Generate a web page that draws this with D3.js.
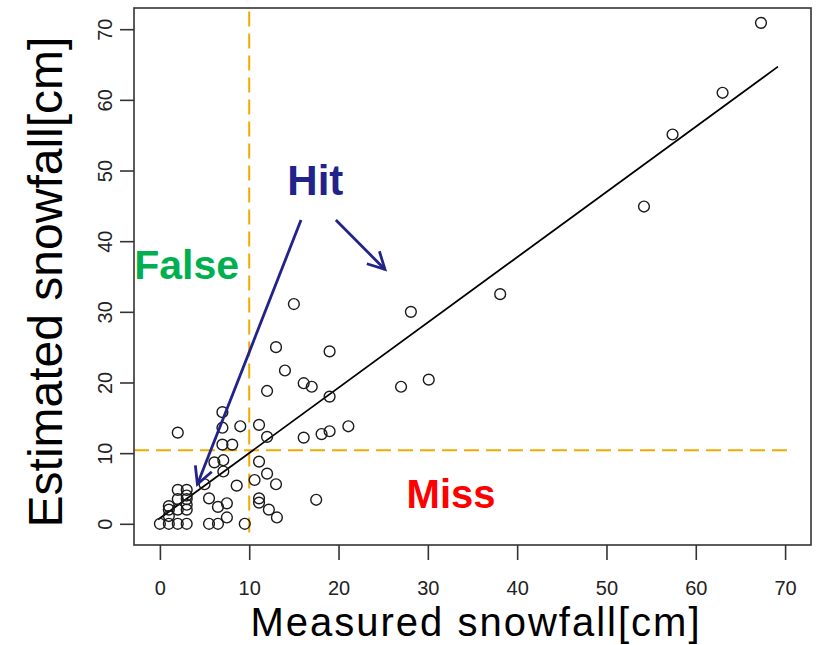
<!DOCTYPE html>
<html>
<head>
<meta charset="utf-8">
<script src="https://cdn.jsdelivr.net/npm/d3@7"></script>
<style>
  body { margin: 0; background: #fff; }
  svg { display: block; font-family: "Liberation Sans", Arial, sans-serif; }
</style>
</head>
<body>
<svg id="chart"></svg>
<script>
var width = 816;
var height = 645;

// measured vs estimated snowfall [cm]
var measured = [67.3, 63.0, 57.4, 54.2, 38.1, 28.1, 30.1, 27.0,
  15.0, 13.0, 19.0, 14.0, 16.1, 17.0, 12.0, 19.0,
  7.0, 7.0, 9.0, 11.1, 12.0, 16.1, 18.1, 19.0, 21.1, 7.0, 8.1, 2.0,
  6.1, 7.1, 11.1, 7.1, 12.0, 10.6, 13.0, 8.6, 5.0,
  5.5, 6.5, 7.5, 11.1, 11.1, 12.2, 13.1, 7.5, 5.5, 6.5, 9.5, 17.5,
  0, 1, 2, 3, 1, 1, 1, 2, 3, 3, 2, 3, 2, 3, 3];
var estimated = [70.9, 61.0, 55.1, 44.9, 32.5, 30.0, 20.4, 19.4,
  31.1, 25.0, 24.4, 21.7, 19.9, 19.4, 18.8, 18.0,
  15.8, 13.6, 13.8, 14.0, 12.3, 12.2, 12.7, 13.1, 13.8, 11.2, 11.2, 12.9,
  8.7, 9.0, 8.8, 7.4, 7.1, 6.2, 5.6, 5.4, 5.6,
  3.6, 2.4, 2.9, 3.6, 3.0, 2.0, 0.9, 0.9, 0, 0, 0, 3.4,
  0, 0, 0, 0, 1.1, 2.0, 2.5, 2.0, 2.0, 2.7, 3.5, 3.5, 4.8, 4.8, 4.0];

var xTicks = [0, 10, 20, 30, 40, 50, 60, 70];
var yTicks = [0, 10, 20, 30, 40, 50, 60, 70];

// regression line end points
var fitX = [-0.2, 69.2];
var fitY = [0.6, 64.7];

// threshold lines
var threshX = 10;
var threshY = 10.4;

// annotations (data coords)
var labels = [
  { text: 'Hit', x: 17.4, y: 46.6, color: '#22228b', size: 42 },
  { text: 'False', x: 3.0, y: 34.6, color: '#00b050', size: 41 },
  { text: 'Miss', x: 32.6, y: 2.2, color: '#ff0000', size: 40 }
];
var arrows = [
  { x1: 15.8, y1: 43.0, x2: 4.2, y2: 5.6 },
  { x1: 19.7, y1: 43.0, x2: 25.2, y2: 36.0 }
];

var box = { left: 134, right: 811, top: 8, bottom: 545 };

var x = d3.scaleLinear().domain([-2.9, 72.9]).range([box.left, box.right]);
var y = d3.scaleLinear().domain([-3, 73]).range([box.bottom, box.top]);

var svg = d3.select('#chart').attr('width', width).attr('height', height);
svg.append('rect').attr('width', width).attr('height', height).attr('fill', '#fff');

// threshold dashed lines
var orange = '#f2aa00';
svg.append('line')
  .attr('x1', x(threshX)).attr('x2', x(threshX))
  .attr('y1', y(72.5)).attr('y2', y(-2.2))
  .attr('stroke', orange).attr('stroke-width', 2)
  .attr('stroke-dasharray', '15,7');
svg.append('line')
  .attr('x1', x(-2.9)).attr('x2', x(70.5))
  .attr('y1', y(threshY)).attr('y2', y(threshY))
  .attr('stroke', orange).attr('stroke-width', 2)
  .attr('stroke-dasharray', '15,7');

// regression line
svg.append('line')
  .attr('x1', x(fitX[0])).attr('y1', y(fitY[0]))
  .attr('x2', x(fitX[1])).attr('y2', y(fitY[1]))
  .attr('stroke', '#000').attr('stroke-width', 1.8);

// points
svg.selectAll('.pt').data(measured).enter()
  .append('circle').classed('pt', true)
  .attr('cx', function(d) { return x(d); })
  .attr('cy', function(d, i) { return y(estimated[i]); })
  .attr('r', 5.4)
  .attr('fill', 'none')
  .attr('stroke', '#1a1a1a')
  .attr('stroke-width', 1.4);

// box
svg.append('rect')
  .attr('x', box.left).attr('y', box.top)
  .attr('width', box.right - box.left).attr('height', box.bottom - box.top)
  .attr('fill', 'none').attr('stroke', '#333').attr('stroke-width', 1.6);

// axes
var xAxis = svg.append('g')
  .attr('transform', 'translate(0,' + box.bottom + ')')
  .call(d3.axisBottom(x).tickValues(xTicks).tickSize(15).tickFormat(d3.format('d')));
xAxis.select('.domain').remove();
xAxis.selectAll('line').attr('stroke', '#333').attr('stroke-width', 1.6);
xAxis.selectAll('text')
  .attr('y', 50).attr('dy', null)
  .attr('fill', '#222')
  .style('font-size', '20px')
  .style('font-family', '"Liberation Sans", Arial, sans-serif');

var yAxis = svg.append('g')
  .attr('transform', 'translate(' + box.left + ',0)')
  .call(d3.axisLeft(y).tickValues(yTicks).tickSize(14).tickFormat(d3.format('d')));
yAxis.select('.domain').remove();
yAxis.selectAll('line').attr('stroke', '#333').attr('stroke-width', 1.6);
yAxis.selectAll('text')
  .attr('x', 0).attr('dy', null)
  .attr('transform', 'translate(-22,0) rotate(-90)')
  .attr('text-anchor', 'middle')
  .attr('fill', '#222')
  .style('font-size', '20px')
  .style('font-family', '"Liberation Sans", Arial, sans-serif');

// axis titles
svg.append('text')
  .attr('x', 476).attr('y', 636)
  .attr('text-anchor', 'middle')
  .style('font-size', '40px')
  .style('letter-spacing', '2px')
  .text('Measured snowfall[cm]');
svg.append('text')
  .attr('transform', 'translate(62,282) rotate(-90)')
  .attr('text-anchor', 'middle')
  .style('font-size', '48px')
  .text('Estimated snowfall[cm]');

// annotation arrows
var navy = '#22228b';
arrows.forEach(function(a) {
  var x1 = x(a.x1), y1 = y(a.y1), x2 = x(a.x2), y2 = y(a.y2);
  var ang = Math.atan2(y1 - y2, x1 - x2);
  var len = 19, spread = Math.PI / 6.5;
  svg.append('line')
    .attr('x1', x1).attr('y1', y1).attr('x2', x2).attr('y2', y2)
    .attr('stroke', navy).attr('stroke-width', 2.8);
  svg.append('path')
    .attr('d', 'M' + (x2 + len * Math.cos(ang + spread)) + ',' + (y2 + len * Math.sin(ang + spread)) +
      'L' + x2 + ',' + y2 +
      'L' + (x2 + len * Math.cos(ang - spread)) + ',' + (y2 + len * Math.sin(ang - spread)))
    .attr('fill', 'none').attr('stroke', navy).attr('stroke-width', 2.8);
});

svg.selectAll('.anno').data(labels).enter()
  .append('text').classed('anno', true)
  .attr('x', function(d) { return x(d.x); })
  .attr('y', function(d) { return y(d.y); })
  .attr('text-anchor', 'middle')
  .attr('fill', function(d) { return d.color; })
  .style('font-weight', 'bold')
  .style('font-size', function(d) { return d.size + 'px'; })
  .text(function(d) { return d.text; });
</script>
</body>
</html>
